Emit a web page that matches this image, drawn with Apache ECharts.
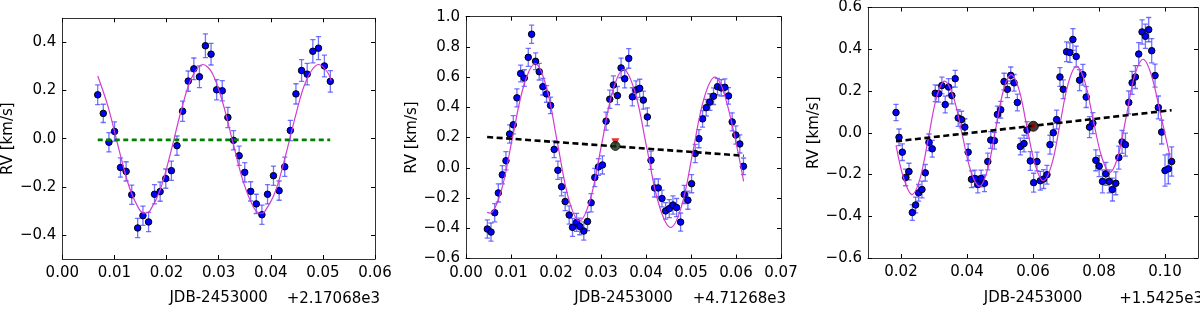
<!DOCTYPE html>
<html>
<head>
<meta charset="utf-8">
<script src="https://cdn.jsdelivr.net/npm/echarts@6/dist/echarts.min.js"></script>
<style>html,body{margin:0;padding:0;background:#fff;}#c{width:1200px;height:311px;}</style>
</head>
<body>
<div id="c"></div>
<script>
// ---------- Panel 1 (offset +2.17068e3) ----------
const p1X = [0.00679,0.00786,0.00894,0.01002,0.01116,0.01224,0.01332,0.01446,0.01547,0.01655,0.01769,0.01877,0.01985,0.02093,0.02200,0.02308,0.02416,0.02524,0.02631,0.02746,0.02854,0.02961,0.03069,0.03177,0.03285,0.03393,0.03500,0.03614,0.03722,0.03830,0.03938,0.04052,0.04160,0.04268,0.04375,0.04483,0.04591,0.04699,0.04807,0.04915,0.05029,0.05143];
const p1Y = [0.182,0.105,-0.015,0.030,-0.120,-0.136,-0.233,-0.371,-0.320,-0.346,-0.231,-0.220,-0.166,-0.133,-0.029,0.114,0.239,0.290,0.257,0.386,0.351,0.203,0.199,0.088,-0.007,-0.071,-0.140,-0.219,-0.271,-0.316,-0.231,-0.154,-0.216,-0.117,0.034,0.186,0.283,0.268,0.363,0.376,0.302,0.238];
const p1Err = [0.041,0.038,0.040,0.040,0.040,0.040,0.040,0.040,0.040,0.040,0.040,0.040,0.040,0.040,0.040,0.042,0.042,0.045,0.045,0.049,0.045,0.042,0.042,0.042,0.040,0.040,0.040,0.040,0.040,0.040,0.040,0.040,0.040,0.040,0.042,0.042,0.045,0.045,0.048,0.048,0.045,0.045];
const p1FitX = [0.0068,0.0088,0.0108,0.0128,0.0148,0.0159,0.0168,0.0188,0.0208,0.0228,0.0248,0.0270,0.0288,0.0308,0.0328,0.0348,0.0368,0.0381,0.0388,0.0408,0.0428,0.0448,0.0468,0.0492,0.0508,0.0516];
const p1FitY = [0.260,0.131,-0.039,-0.198,-0.295,-0.310,-0.300,-0.211,-0.057,0.116,0.252,0.308,0.271,0.148,-0.022,-0.184,-0.289,-0.310,-0.304,-0.224,-0.074,0.099,0.241,0.308,0.279,0.241];
const p1LineX = [0.0068,0.0514];
const p1LineY = [-0.005,-0.005];

// ---------- Panel 2 (offset +4.71268e3) ----------
const p2X = [0.00474,0.00556,0.00638,0.00719,0.00807,0.00888,0.00970,0.01051,0.01132,0.01214,0.01295,0.01384,0.01458,0.01546,0.01627,0.01708,0.01790,0.01879,0.01960,0.02042,0.02123,0.02204,0.02293,0.02367,0.02456,0.02529,0.02618,0.02700,0.02781,0.02862,0.02943,0.03032,0.03113,0.03195,0.03276,0.03365,0.03446,0.03527,0.03616,0.03697,0.03778,0.03860,0.03941,0.04030,0.04111,0.04192,0.04273,0.04355,0.04436,0.04517,0.04599,0.04680,0.04769,0.04850,0.04931,0.05013,0.05094,0.05175,0.05257,0.05338,0.05419,0.05501,0.05589,0.05671,0.05752,0.05833,0.05915,0.05996,0.06085,0.06166];
const p2Y = [-0.405,-0.425,-0.297,-0.166,-0.046,0.047,0.224,0.285,0.463,0.624,0.594,0.731,0.884,0.705,0.636,0.537,0.489,0.413,0.122,-0.016,-0.125,-0.223,-0.312,-0.394,-0.361,-0.388,-0.418,-0.355,-0.231,-0.064,0.006,0.019,0.309,0.454,0.548,0.478,0.661,0.589,0.724,0.470,0.515,0.526,0.448,0.337,0.050,-0.133,-0.133,-0.203,-0.285,-0.270,-0.246,-0.263,-0.359,-0.176,-0.214,-0.105,0.095,0.193,0.324,0.398,0.435,0.474,0.537,0.529,0.533,0.476,0.304,0.217,0.158,0.010];
const p2Err = [0.060,0.060,0.060,0.060,0.060,0.060,0.060,0.060,0.060,0.055,0.055,0.060,0.060,0.055,0.055,0.055,0.055,0.055,0.055,0.060,0.060,0.060,0.060,0.060,0.060,0.055,0.060,0.060,0.060,0.060,0.055,0.060,0.060,0.060,0.060,0.060,0.065,0.060,0.065,0.060,0.060,0.060,0.060,0.060,0.060,0.060,0.060,0.055,0.055,0.060,0.060,0.060,0.060,0.060,0.060,0.060,0.060,0.060,0.055,0.055,0.055,0.055,0.055,0.055,0.055,0.055,0.060,0.060,0.060,0.055];
const p2FitX = [0.0047,0.0053,0.0078,0.0103,0.01285,0.0154,0.01785,0.0203,0.02275,0.0252,0.02765,0.0301,0.03255,0.0350,0.0376,0.0402,0.04285,0.0455,0.04795,0.0504,0.05285,0.0553,0.0578,0.0617];
const p2FitY = [-0.295,-0.300,-0.155,0.195,0.545,0.690,0.537,0.169,-0.199,-0.352,-0.205,0.149,0.503,0.650,0.497,0.128,-0.241,-0.395,-0.249,0.103,0.455,0.600,0.448,-0.090];
const p2LineX = [0.0047,0.0617];
const p2LineY = [0.204,0.080];
const p2Mark = [0.0332,0.145];
const p2MarkTop = [0.0332,0.170];

// ---------- Panel 3 (offset +1.5425e3) ----------
const p3X = [0.01849,0.01940,0.02040,0.02141,0.02242,0.02343,0.02443,0.02534,0.02635,0.02736,0.02846,0.02947,0.03038,0.03139,0.03239,0.03340,0.03441,0.03542,0.03642,0.03733,0.03834,0.03934,0.04035,0.04136,0.04237,0.04327,0.04428,0.04529,0.04630,0.04720,0.04831,0.04922,0.05023,0.05123,0.05224,0.05325,0.05426,0.05526,0.05617,0.05728,0.05819,0.05919,0.06020,0.06121,0.06221,0.06322,0.06423,0.06514,0.06615,0.06715,0.06816,0.06917,0.07018,0.07118,0.07209,0.07310,0.07411,0.07511,0.07612,0.07713,0.07814,0.07904,0.08005,0.08106,0.08207,0.08307,0.08408,0.08509,0.08600,0.08700,0.08801,0.08902,0.09003,0.09103,0.09204,0.09305,0.09406,0.09506,0.09597,0.09698,0.09798,0.09899,0.10000,0.10101,0.10202];
const p3Y = [0.097,-0.022,-0.093,-0.214,-0.186,-0.382,-0.346,-0.288,-0.272,-0.192,-0.046,-0.077,0.189,0.187,0.226,0.135,0.219,0.178,0.259,0.071,0.063,0.027,-0.093,-0.223,-0.219,-0.248,-0.219,-0.242,-0.138,-0.035,-0.038,0.088,0.110,0.245,0.208,0.275,0.239,0.145,-0.066,-0.052,0.013,-0.135,-0.239,-0.138,-0.230,-0.222,-0.201,-0.057,0.000,0.063,0.267,0.208,0.388,0.384,0.447,0.365,0.252,0.278,0.171,0.027,0.046,-0.132,-0.160,-0.233,-0.197,-0.233,-0.272,-0.242,-0.119,-0.044,-0.057,0.145,0.239,0.267,0.377,0.483,0.462,0.494,0.393,0.274,0.121,0.003,-0.181,-0.173,-0.138];
const p3Err = [0.039,0.040,0.040,0.040,0.040,0.038,0.038,0.040,0.040,0.040,0.040,0.040,0.040,0.040,0.040,0.040,0.040,0.040,0.040,0.040,0.040,0.040,0.040,0.040,0.040,0.040,0.040,0.040,0.040,0.040,0.040,0.040,0.040,0.040,0.040,0.040,0.040,0.040,0.040,0.040,0.040,0.045,0.045,0.045,0.045,0.045,0.045,0.045,0.045,0.045,0.045,0.045,0.047,0.047,0.052,0.050,0.050,0.050,0.050,0.050,0.050,0.050,0.050,0.055,0.055,0.055,0.055,0.055,0.055,0.055,0.055,0.055,0.055,0.055,0.055,0.058,0.058,0.058,0.058,0.055,0.055,0.057,0.075,0.072,0.070];
const p3FitX = [0.0185,0.0208,0.0233,0.0258,0.0283,0.03075,0.0332,0.03585,0.0385,0.04115,0.0438,0.0462,0.0486,0.0510,0.0534,0.0558,0.0582,0.0607,0.0631,0.0657,0.0682,0.0707,0.0732,0.0757,0.0782,0.0808,0.0833,0.0858,0.0883,0.0908,0.0934,0.0958,0.0985,0.1016];
const p3FitY = [-0.060,-0.217,-0.296,-0.217,-0.025,0.167,0.247,0.173,-0.005,-0.183,-0.256,-0.178,0.011,0.200,0.278,0.204,0.024,-0.156,-0.230,-0.150,0.044,0.238,0.318,0.245,0.065,-0.115,-0.189,-0.110,0.082,0.274,0.352,0.280,0.100,-0.120];
const p3LineX = [0.0185,0.1020];
const p3LineY = [-0.041,0.108];
const p3Mark = [0.0601,0.031];

// ---------- axis / text settings ----------
const xNames = ['JDB-2453000','JDB-2453000','JDB-2453000'];
const offsets = ['+2.17068e3','+4.71268e3','+1.5425e3'];
const yName = 'RV [km/s]';
const p1YTicks = [-0.4,-0.2,0,0.2,0.4];
const p3XTicks = [0.02,0.04,0.06,0.08,0.10];

const FONT = 'DejaVu Sans';
const grids = [
  {left:59.5, top:18.3, width:315.5, height:244},
  {left:466, top:16.7, width:315, height:245},
  {left:868, top:6.8, width:330, height:254.4}
];
const fmt2 = v => { const s = Math.abs(v) < 1e-9 ? (0).toFixed(2) : v.toFixed(2); return s.replace('-', '\u2212'); };
const fmt1 = v => { const s = Math.abs(v) < 1e-9 ? (0).toFixed(1) : v.toFixed(1); return s.replace('-', '\u2212'); };

function xAx(gi, min, max, interval, custom, pos, nameGap, name) {
  const main = pos === 'bottom';
  const a = {
    type:'value', gridIndex:gi, position:pos, min:min, max:max,
    axisLine:{show:true, onZero:false, lineStyle:{color:'#333', width:1}},
    axisTick:{show:true, inside:true, length:4, lineStyle:{color:'#000', width:1}},
    splitLine:{show:false},
    axisLabel:{show:main, formatter:fmt2, fontFamily:FONT, fontSize:15, color:'#000', margin:7, showMinLabel:true, showMaxLabel:true, hideOverlap:false}
  };
  if (custom) { a.axisTick.customValues = custom; a.axisLabel.customValues = custom; } else { a.interval = interval; }
  if (main) { a.name = name; a.nameLocation = 'middle'; a.nameGap = nameGap; a.nameTextStyle = {fontFamily:FONT, fontSize:15, color:'#000'}; }
  return a;
}
function yAx(gi, min, max, interval, custom, pos, nameGap, fmt) {
  const main = pos === 'left';
  const a = {
    type:'value', gridIndex:gi, position:pos, min:min, max:max,
    axisLine:{show:true, onZero:false, lineStyle:{color:'#333', width:1}},
    axisTick:{show:true, inside:true, length:4, lineStyle:{color:'#000', width:1}},
    splitLine:{show:false},
    axisLabel:{show:main, formatter:fmt, fontFamily:FONT, fontSize:15, color:'#000', margin:6, showMinLabel:true, showMaxLabel:true, hideOverlap:false}
  };
  if (custom) { a.axisTick.customValues = custom; a.axisLabel.customValues = custom; } else { a.interval = interval; }
  if (main) { a.name = yName; a.nameLocation = 'middle'; a.nameGap = nameGap; a.nameRotate = 90; a.nameTextStyle = {fontFamily:FONT, fontSize:15, color:'#000'}; }
  return a;
}

const xAxes = [
  xAx(0, 0, 0.06, 0.01, null, 'bottom', 32, xNames[0]),
  xAx(1, 0, 0.07, 0.01, null, 'bottom', 32.5, xNames[1]),
  xAx(2, 0.01, 0.11, null, p3XTicks, 'bottom', 33, xNames[2]),
  xAx(0, 0, 0.06, 0.01, null, 'top'),
  xAx(1, 0, 0.07, 0.01, null, 'top'),
  xAx(2, 0.01, 0.11, null, p3XTicks, 'top')
];
const yAxes = [
  yAx(0, -0.5, 0.5, null, p1YTicks, 'left', 43, fmt1),
  yAx(1, -0.6, 1.0, 0.2, null, 'left', 45, fmt1),
  yAx(2, -0.6, 0.6, 0.2, null, 'left', 46, fmt1),
  yAx(0, -0.5, 0.5, null, p1YTicks, 'right'),
  yAx(1, -0.6, 1.0, 0.2, null, 'right'),
  yAx(2, -0.6, 0.6, 0.2, null, 'right')
];

const zip = (a, b) => a.map((v, i) => [v, b[i]]);
const ERR_COLOR = 'rgba(70,70,255,0.75)';

function errSeries(i, xs, ys, errs, defErr) {
  return {
    type:'custom', xAxisIndex:i, yAxisIndex:i, clip:true, silent:true, z:2,
    data: xs.map((x, k) => { const e = errs[k] != null ? errs[k] : defErr; return [x, ys[k] - e, ys[k] + e]; }),
    encode:{x:0, y:[1,2]},
    renderItem: function (params, api) {
      const x = api.value(0);
      const lo = api.coord([x, api.value(1)]);
      const hi = api.coord([x, api.value(2)]);
      const w = 2.6;
      const st = {stroke:ERR_COLOR, lineWidth:1.3};
      return {type:'group', children:[
        {type:'line', shape:{x1:lo[0], y1:lo[1], x2:hi[0], y2:hi[1]}, style:st},
        {type:'line', shape:{x1:lo[0]-w, y1:lo[1], x2:lo[0]+w, y2:lo[1]}, style:st},
        {type:'line', shape:{x1:hi[0]-w, y1:hi[1], x2:hi[0]+w, y2:hi[1]}, style:st}
      ]};
    }
  };
}
function ptSeries(i, xs, ys) {
  return {type:'scatter', xAxisIndex:i, yAxisIndex:i, data:zip(xs, ys), symbol:'circle', symbolSize:6.5, z:3, silent:true,
    itemStyle:{color:'#0000ff', borderColor:'#000', borderWidth:1, opacity:1}};
}
function fitSeries(i, xs, ys) {
  return {type:'line', xAxisIndex:i, yAxisIndex:i, data:zip(xs, ys), showSymbol:false, smooth:0.35, z:4, silent:true,
    lineStyle:{color:'#d23cd2', width:1.2}};
}
function dashSeries(i, xs, ys, color, dash) {
  return {type:'line', xAxisIndex:i, yAxisIndex:i, data:zip(xs, ys), showSymbol:false, z:5, silent:true,
    lineStyle:{color:color, width:2.6, type:dash}};
}

const series = [
  errSeries(0, p1X, p1Y, p1Err, 0.04), ptSeries(0, p1X, p1Y), fitSeries(0, p1FitX, p1FitY),
  dashSeries(0, p1LineX, p1LineY, '#008000', [5,3.5]),
  errSeries(1, p2X, p2Y, p2Err, 0.06), ptSeries(1, p2X, p2Y), fitSeries(1, p2FitX, p2FitY),
  dashSeries(1, p2LineX, p2LineY, '#000', [6,3.5]),
  {type:'scatter', xAxisIndex:1, yAxisIndex:1, data:[p2MarkTop], symbol:'triangle', symbolRotate:180, symbolSize:8, z:6, silent:true, itemStyle:{color:'#e00000'}},
  {type:'scatter', xAxisIndex:1, yAxisIndex:1, data:[p2Mark], symbol:'circle', symbolSize:9, z:7, silent:true, itemStyle:{color:'#123012', borderColor:'#000', borderWidth:1}},
  errSeries(2, p3X, p3Y, p3Err, 0.045), ptSeries(2, p3X, p3Y), fitSeries(2, p3FitX, p3FitY),
  dashSeries(2, p3LineX, p3LineY, '#000', [6,3.5]),
  {type:'scatter', xAxisIndex:2, yAxisIndex:2, data:[p3Mark], symbol:'circle', symbolSize:10, z:6, silent:true, itemStyle:{color:'#1a0500', borderColor:'#000', borderWidth:1}},
  {type:'scatter', xAxisIndex:2, yAxisIndex:2, data:[p3Mark], symbol:'triangle', symbolRotate:180, symbolSize:6, z:7, silent:true, itemStyle:{color:'#a00000'}}
];

const offsetRight = [380, 786, 1203];
const graphic = offsets.map((t, i) => ({
  type:'text', x:offsetRight[i], y:299.5, silent:true,
  style:{text:t, fontFamily:FONT, fontSize:15, fill:'#000', textAlign:'right', textVerticalAlign:'middle'}
}));

const chart = echarts.init(document.getElementById('c'), null, {renderer:'canvas'});
chart.setOption({
  animation:false,
  backgroundColor:'#fff',
  grid: grids,
  xAxis: xAxes,
  yAxis: yAxes,
  series: series,
  graphic: graphic
});
</script>
</body>
</html>
